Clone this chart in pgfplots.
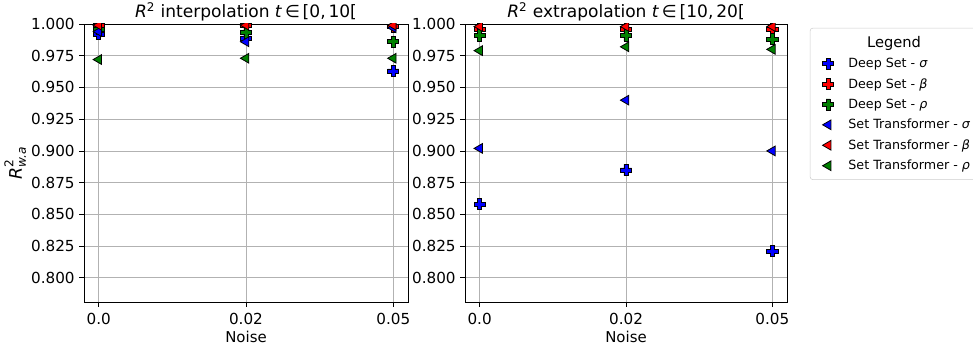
\documentclass[border=0pt]{standalone}
\usepackage{amsmath}
\usepackage{fontspec}
\setmainfont{DejaVu Sans}
\usepackage{pgfplots}
\pgfplotsset{compat=1.18}

\pgfdeclareplotmark{fatplus}{%
  \pgfpathmoveto{\pgfqpoint{-0.36\pgfplotmarksize}{\pgfplotmarksize}}%
  \pgfpathlineto{\pgfqpoint{0.36\pgfplotmarksize}{\pgfplotmarksize}}%
  \pgfpathlineto{\pgfqpoint{0.36\pgfplotmarksize}{0.36\pgfplotmarksize}}%
  \pgfpathlineto{\pgfqpoint{\pgfplotmarksize}{0.36\pgfplotmarksize}}%
  \pgfpathlineto{\pgfqpoint{\pgfplotmarksize}{-0.36\pgfplotmarksize}}%
  \pgfpathlineto{\pgfqpoint{0.36\pgfplotmarksize}{-0.36\pgfplotmarksize}}%
  \pgfpathlineto{\pgfqpoint{0.36\pgfplotmarksize}{-\pgfplotmarksize}}%
  \pgfpathlineto{\pgfqpoint{-0.36\pgfplotmarksize}{-\pgfplotmarksize}}%
  \pgfpathlineto{\pgfqpoint{-0.36\pgfplotmarksize}{-0.36\pgfplotmarksize}}%
  \pgfpathlineto{\pgfqpoint{-\pgfplotmarksize}{-0.36\pgfplotmarksize}}%
  \pgfpathlineto{\pgfqpoint{-\pgfplotmarksize}{0.36\pgfplotmarksize}}%
  \pgfpathlineto{\pgfqpoint{-0.36\pgfplotmarksize}{0.36\pgfplotmarksize}}%
  \pgfpathclose
  \pgfusepathqfillstroke
}

\definecolor{mplgreen}{RGB}{0,128,0}

\pgfplotsset{
  dsS/.style={only marks, mark=fatplus, mark size=4.2pt, mark options={draw=black, fill=blue, line width=0.6pt}},
  dsB/.style={only marks, mark=fatplus, mark size=4.2pt, mark options={draw=black, fill=red, line width=0.6pt}},
  dsR/.style={only marks, mark=fatplus, mark size=4.2pt, mark options={draw=black, fill=mplgreen, line width=0.6pt}},
  stS/.style={only marks, mark=triangle*, mark size=4.2pt, mark options={rotate=90, draw=black, fill=blue, line width=0.6pt}},
  stB/.style={only marks, mark=triangle*, mark size=4.2pt, mark options={rotate=90, draw=black, fill=red, line width=0.6pt}},
  stR/.style={only marks, mark=triangle*, mark size=4.2pt, mark options={rotate=90, draw=black, fill=mplgreen, line width=0.6pt}},
  myaxis/.style={
    scale only axis, height=208.5pt,
    xmin=-0.1, xmax=2.1, ymin=0.781, ymax=1.0,
    xtick={0,1,2}, xticklabels={0.0,0.02,0.05},
    ytick={0.8,0.825,0.85,0.875,0.9,0.925,0.95,0.975,1.0},
    yticklabel style={/pgf/number format/.cd, fixed, fixed zerofill, precision=3},
    /pgf/number format/assume math mode=true,
    grid=major, grid style={black!30, line width=0.6pt},
    axis line style={line width=0.6pt},
    tick align=outside, tick pos=left, major tick length=3.5pt,
    tick style={black, line width=0.6pt},
    ticklabel style={font=\fontsize{11.4}{13}\selectfont},
    xticklabel style={yshift=-1.5pt},
    label style={font=\fontsize{11.2}{13}\selectfont},
    title style={font=\fontsize{12.8}{15}\selectfont, at={(0.5,1)}, anchor=base, yshift=-0.8pt},
    xlabel=Noise,
    xlabel style={yshift=2pt},
    clip marker paths=true,
  },
}

\begin{document}
\begin{tikzpicture}
\path[use as bounding box] (0,0) rectangle (729.75pt,264pt);

\begin{axis}[myaxis, at={(63pt,37.5pt)}, anchor=south west, width=243pt,
  title={\textit{R}\textsuperscript{2} interpolation \textit{t}\,∈\,[0,\,10[},
  ylabel={$\textit{R}^{\text{2}}_{\textit{w.a}}$},
  ylabel style={font=\fontsize{13}{15}\selectfont, yshift=-3pt}]
\addplot[dsS] coordinates {(0,0.992) (1,0.989) (2,0.963)};
\addplot[dsB] coordinates {(0,0.999) (1,0.999) (2,0.998)};
\addplot[dsR] coordinates {(0,0.996) (1,0.993) (2,0.986)};
\addplot[stS] coordinates {(0,0.994) (1,0.986) (2,0.997)};
\addplot[stB] coordinates {(0,0.999) (1,0.999) (2,0.999)};
\addplot[stR] coordinates {(0,0.972) (1,0.973) (2,0.973)};
\end{axis}

\begin{axis}[myaxis, at={(348.75pt,37.5pt)}, anchor=south west, width=241.5pt,
  title={\textit{R}\textsuperscript{2} extrapolation \textit{t}\,∈\,[10,\,20[},
  legend style={at={(1.071,0.986)}, anchor=north west, draw=black!20, rounded corners=2pt,
    font=\fontsize{9.5}{11.5}\selectfont, row sep=2.6pt, column sep=9pt, inner xsep=5pt, inner ysep=4pt},
  legend cell align=left]
\addlegendimage{empty legend}
\addlegendentry{\hspace{14pt}{\fontsize{11}{12}\selectfont Legend}}
\addplot[dsS] coordinates {(0,0.858) (1,0.885) (2,0.821)};
\addlegendentry{Deep Set - \textit{σ}}
\addplot[dsB] coordinates {(0,0.996) (1,0.996) (2,0.996)};
\addlegendentry{Deep Set - \textit{β}}
\addplot[dsR] coordinates {(0,0.991) (1,0.991) (2,0.988)};
\addlegendentry{Deep Set - \textit{ρ}}
\addplot[stS] coordinates {(0,0.902) (1,0.940) (2,0.900)};
\addlegendentry{Set Transformer - \textit{σ}}
\addplot[stB] coordinates {(0,0.998) (1,0.998) (2,0.998)};
\addlegendentry{Set Transformer - \textit{β}}
\addplot[stR] coordinates {(0,0.979) (1,0.982) (2,0.980)};
\addlegendentry{Set Transformer - \textit{ρ}}
\end{axis}
\end{tikzpicture}
\end{document}
